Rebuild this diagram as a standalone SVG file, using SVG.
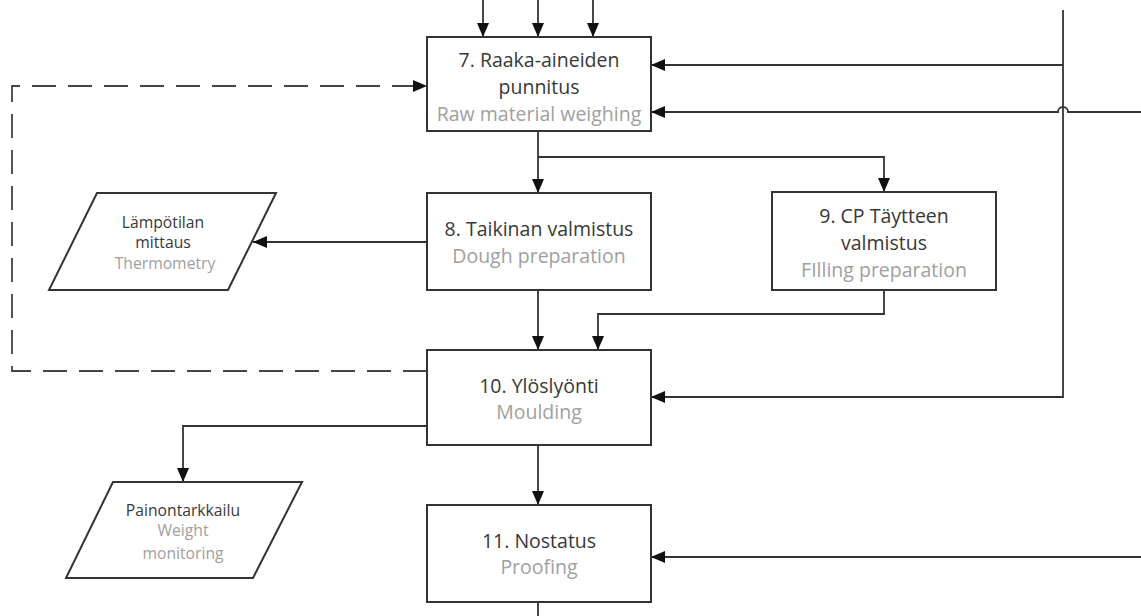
<svg xmlns="http://www.w3.org/2000/svg" width="1141" height="616" viewBox="0 0 1141 616">
<style>
.box{fill:#fff;stroke:#333;stroke-width:2}
.ln{fill:none;stroke:#333;stroke-width:1.8}
.dash{fill:none;stroke:#444;stroke-width:1.8;stroke-dasharray:24 12}
.t{font-family:"Open Sans","Noto Sans",sans-serif;font-size:19.5px;fill:#383838;text-anchor:middle}
.e{fill:#a0a0a0}
.s{font-size:15.7px}
</style>
<defs>
<marker id="ah" viewBox="0 0 14 12" refX="14" refY="6" markerWidth="14" markerHeight="12" markerUnits="userSpaceOnUse" orient="auto">
<path d="M0,0 L14,6 L0,12 Z" fill="#111"/>
</marker>
</defs>
<rect width="1141" height="616" fill="#fff"/>
<g id="connectors">
<path class="ln" d="M483,0 V37" marker-end="url(#ah)"/>
<path class="ln" d="M538,0 V37" marker-end="url(#ah)"/>
<path class="ln" d="M593,0 V37" marker-end="url(#ah)"/>
<path class="ln" d="M1063,10 V65 H651" marker-end="url(#ah)"/>
<path class="ln" d="M1141,112 H1068 A5,5 0 0 0 1058,112 H651" marker-end="url(#ah)"/>
<path class="ln" d="M1063,65 V397 H651" marker-end="url(#ah)"/>
<path class="ln" d="M538,131 V193" marker-end="url(#ah)"/>
<path class="ln" d="M538,157 H884 V192" marker-end="url(#ah)"/>
<path class="ln" d="M427,242 H253" marker-end="url(#ah)"/>
<path class="ln" d="M538,290 V350" marker-end="url(#ah)"/>
<path class="ln" d="M884,290 V314 H598 V350" marker-end="url(#ah)"/>
<path class="dash" d="M427,371 H12 V86 H427" marker-end="url(#ah)"/>
<path class="ln" d="M427,426 H183 V482" marker-end="url(#ah)"/>
<path class="ln" d="M538,445 V505" marker-end="url(#ah)"/>
<path class="ln" d="M1141,557 H651" marker-end="url(#ah)"/>
<path class="ln" d="M538,602 V616"/>
</g>
<g id="n7">
<rect class="box" x="427" y="37" width="224" height="94"/>
<text class="t" x="539" y="67">7. Raaka-aineiden</text>
<text class="t" x="539" y="94">punnitus</text>
<text class="t e" x="539" y="121">Raw material weighing</text>
</g>
<g id="n8">
<rect class="box" x="427" y="193" width="224" height="97"/>
<text class="t" x="539" y="236">8. Taikinan valmistus</text>
<text class="t e" x="539" y="263">Dough preparation</text>
</g>
<g id="n9">
<rect class="box" x="772" y="192" width="224" height="98"/>
<text class="t" x="884" y="223">9. CP Täytteen</text>
<text class="t" x="884" y="250">valmistus</text>
<text class="t e" x="884" y="277">FIlling preparation</text>
</g>
<g id="n10">
<rect class="box" x="427" y="350" width="224" height="95"/>
<text class="t" x="539" y="393">10. Ylöslyönti</text>
<text class="t e" x="539" y="419">Moulding</text>
</g>
<g id="n11">
<rect class="box" x="427" y="505" width="224" height="97"/>
<text class="t" x="539" y="548">11. Nostatus</text>
<text class="t e" x="539" y="574">Proofing</text>
</g>
<g id="thermo">
<polygon class="box" points="97,193 276,193 228,290 49,290"/>
<text class="t s" x="163" y="228">Lämpötilan</text>
<text class="t s" x="163" y="248">mittaus</text>
<text class="t s e" x="165" y="269">Thermometry</text>
</g>
<g id="weight">
<polygon class="box" points="113,482 302,482 253,578 66,578"/>
<text class="t s" x="183" y="516">Painontarkkailu</text>
<text class="t s e" x="183" y="536">Weight</text>
<text class="t s e" x="183" y="559">monitoring</text>
</g>
</svg>
